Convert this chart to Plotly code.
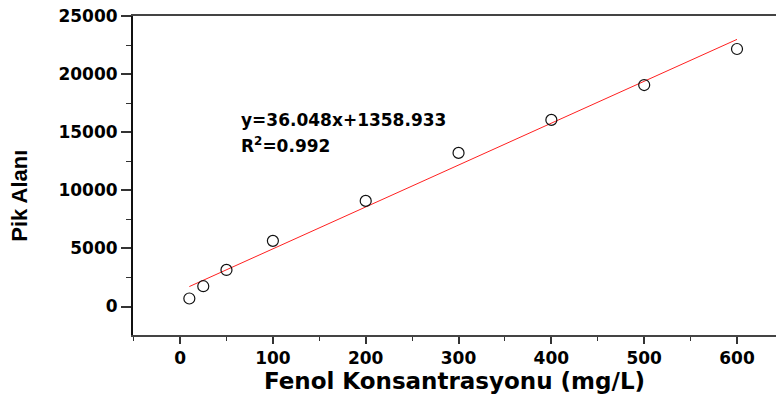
import plotly.graph_objects as go

# Data
conc = [10, 25, 50, 100, 200, 300, 400, 500, 600]
peak_area = [690, 1750, 3150, 5650, 9090, 13220, 16060, 19060, 22160]

# Regression line (endpoints of the fit shown on the chart)
fit_x = [10, 600]
fit_y = [1719, 22988]

eq_lines = ["y=36.048x+1358.933", "R<sup>2</sup>=0.992"]

x_title = "Fenol Konsantrasyonu (mg/L)"
y_title = "Pik Alanı"

x_ticks = [0, 100, 200, 300, 400, 500, 600]
y_ticks = [0, 5000, 10000, 15000, 20000, 25000]

fig = go.Figure()

fig.add_trace(go.Scatter(
    x=fit_x, y=fit_y, mode="lines",
    line=dict(color="#ff2020", width=1),
    showlegend=False, hoverinfo="skip",
))
fig.add_trace(go.Scatter(
    x=conc, y=peak_area, mode="markers",
    marker=dict(symbol="circle-open", size=11, color="#111111",
                line=dict(width=1.2, color="#111111")),
    showlegend=False,
))

tickfont = dict(family="DejaVu Sans", size=17, color="#000000", weight="bold")

fig.update_xaxes(
    range=[-50.7, 642],
    tickvals=x_ticks, ticktext=[str(v) for v in x_ticks],
    ticks="outside", ticklen=7, tickwidth=1.5, tickcolor="#333333",
    minor=dict(dtick=50, tick0=0, ticks="outside", ticklen=4, tickwidth=1.2, tickcolor="#333333"),
    showline=True, linecolor="#444444", linewidth=2, mirror=True,
    showgrid=False, zeroline=False,
    tickfont=tickfont,
    title=dict(text=x_title, font=dict(family="DejaVu Sans", size=23, color="#000000", weight="bold"),
               standoff=5),
)
fig.update_yaxes(
    range=[-2450, 25000],
    tickvals=y_ticks, ticktext=[str(v) for v in y_ticks],
    ticks="outside", ticklen=10, tickwidth=1.5, tickcolor="#333333",
    minor=dict(dtick=2500, tick0=0, ticks="outside", ticklen=5, tickwidth=1.2, tickcolor="#333333"),
    showline=True, linecolor="#111111", linewidth=2,
    showgrid=False, zeroline=False,
    tickfont=tickfont,
)

fig.add_annotation(
    xref="paper", yref="paper", x=-0.176, y=0.436,
    text=y_title, textangle=-90, showarrow=False,
    font=dict(family="Liberation Sans", size=22, color="#000000", weight="bold"),
    xanchor="center", yanchor="middle",
)

fig.add_annotation(
    x=64, y=16050, text=eq_lines[0], showarrow=False,
    xanchor="left", yanchor="middle",
    font=dict(family="DejaVu Sans", size=17, color="#000000", weight="bold"),
)
fig.add_annotation(
    x=64, y=13900, text=eq_lines[1], showarrow=False,
    xanchor="left", yanchor="middle",
    font=dict(family="DejaVu Sans", size=17, color="#000000", weight="bold"),
)

fig.update_layout(
    width=776, height=396,
    margin=dict(l=133, r=0, t=16, b=61),
    plot_bgcolor="white", paper_bgcolor="white",
)

fig.write_html("out.html")
